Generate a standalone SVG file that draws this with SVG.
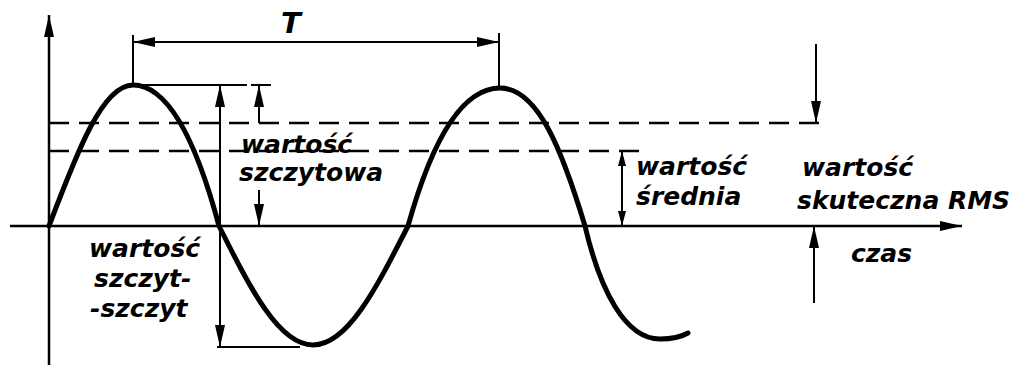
<svg xmlns="http://www.w3.org/2000/svg" width="1017" height="367" viewBox="0 0 1017 367">
<style>
.bg{fill:#fff}
.ax{stroke:#000;stroke-width:2.5;fill:none}
.ln{stroke:#000;stroke-width:2;fill:none}
.dash{stroke:#000;stroke-width:2.5;fill:none;stroke-dasharray:20 10}
.wave{stroke:#000;stroke-width:5;fill:none;stroke-linecap:round;stroke-linejoin:round}
.lbl{font-family:"DejaVu Sans","Liberation Sans",sans-serif;font-style:italic;font-weight:bold;font-size:25px;fill:#000}
</style>
<defs>
<marker id="arr" viewBox="0 0 22 10" refX="22" refY="5" markerWidth="22" markerHeight="10" markerUnits="userSpaceOnUse" orient="auto-start-reverse">
<path d="M0,0 L22,5 L0,10 z" fill="#000"/>
</marker>
<marker id="arrs" viewBox="0 0 15 8" refX="15" refY="4" markerWidth="15" markerHeight="8" markerUnits="userSpaceOnUse" orient="auto-start-reverse">
<path d="M0,0 L15,4 L0,8 z" fill="#000"/>
</marker>
</defs>
<rect class="bg" x="0" y="0" width="1017" height="367"/>
<g id="axes">
<line class="ax" x1="49" y1="365" x2="49" y2="15" marker-end="url(#arr)"/>
<line class="ax" x1="10" y1="226" x2="962" y2="226" marker-end="url(#arr)"/>
</g>
<g id="levels">
<line class="dash" x1="49" y1="123" x2="820" y2="123"/>
<line class="dash" x1="49" y1="151" x2="643" y2="151"/>
</g>
<g id="wave">
<path class="wave" d="M49,226 C77,152 102.5,85 133,85 C172,85 200,155 219,226 C250.4,288.5 278.8,345 313,345 C347.5,345 376.2,288.5 408,226 C432,140 462,88 500,88 C538,88 562,150 585,226 C600,290 625,339 660,339 C674,339 681,337 688,333"/>
</g>
<g id="connectors">
<line class="ln" x1="133" y1="35" x2="133" y2="85"/>
<line class="ln" x1="499" y1="33" x2="499" y2="88"/>
<line class="ln" x1="133" y1="42" x2="499" y2="42" marker-start="url(#arr)" marker-end="url(#arr)"/>
<line class="ln" x1="133" y1="85" x2="247" y2="85"/>
<line class="ln" x1="251" y1="85" x2="271" y2="85"/>
<line class="ln" x1="217" y1="347" x2="300" y2="347"/>
<line class="ln" x1="220" y1="85" x2="220" y2="347" marker-start="url(#arr)" marker-end="url(#arr)"/>
<line class="ln" x1="259" y1="123" x2="259" y2="85" marker-end="url(#arr)"/>
<line class="ln" x1="259" y1="190" x2="259" y2="226" marker-end="url(#arr)"/>
<line class="ln" x1="622" y1="151" x2="622" y2="226" marker-start="url(#arrs)" marker-end="url(#arrs)"/>
<line class="ln" x1="816" y1="44" x2="816" y2="123" marker-end="url(#arr)"/>
<line class="ln" x1="814" y1="303" x2="814" y2="226" marker-end="url(#arr)"/>
</g>
<g id="label-T"><text class="lbl" x="281" y="33" style="font-size:29px">T</text></g>
<g id="label-peak">
<text class="lbl" x="241" y="153">wartość</text>
<text class="lbl" x="239" y="181">szczytowa</text>
</g>
<g id="label-p2p">
<text class="lbl" x="89" y="257">wartość</text>
<text class="lbl" x="94" y="287">szczyt-</text>
<text class="lbl" x="90" y="317">-szczyt</text>
</g>
<g id="label-mean">
<text class="lbl" x="636" y="175">wartość</text>
<text class="lbl" x="636" y="205">średnia</text>
</g>
<g id="label-rms">
<text class="lbl" x="802" y="176">wartość</text>
<text class="lbl" x="797" y="209">skuteczna RMS</text>
</g>
<g id="label-time"><text class="lbl" x="851" y="262">czas</text></g>
</svg>
